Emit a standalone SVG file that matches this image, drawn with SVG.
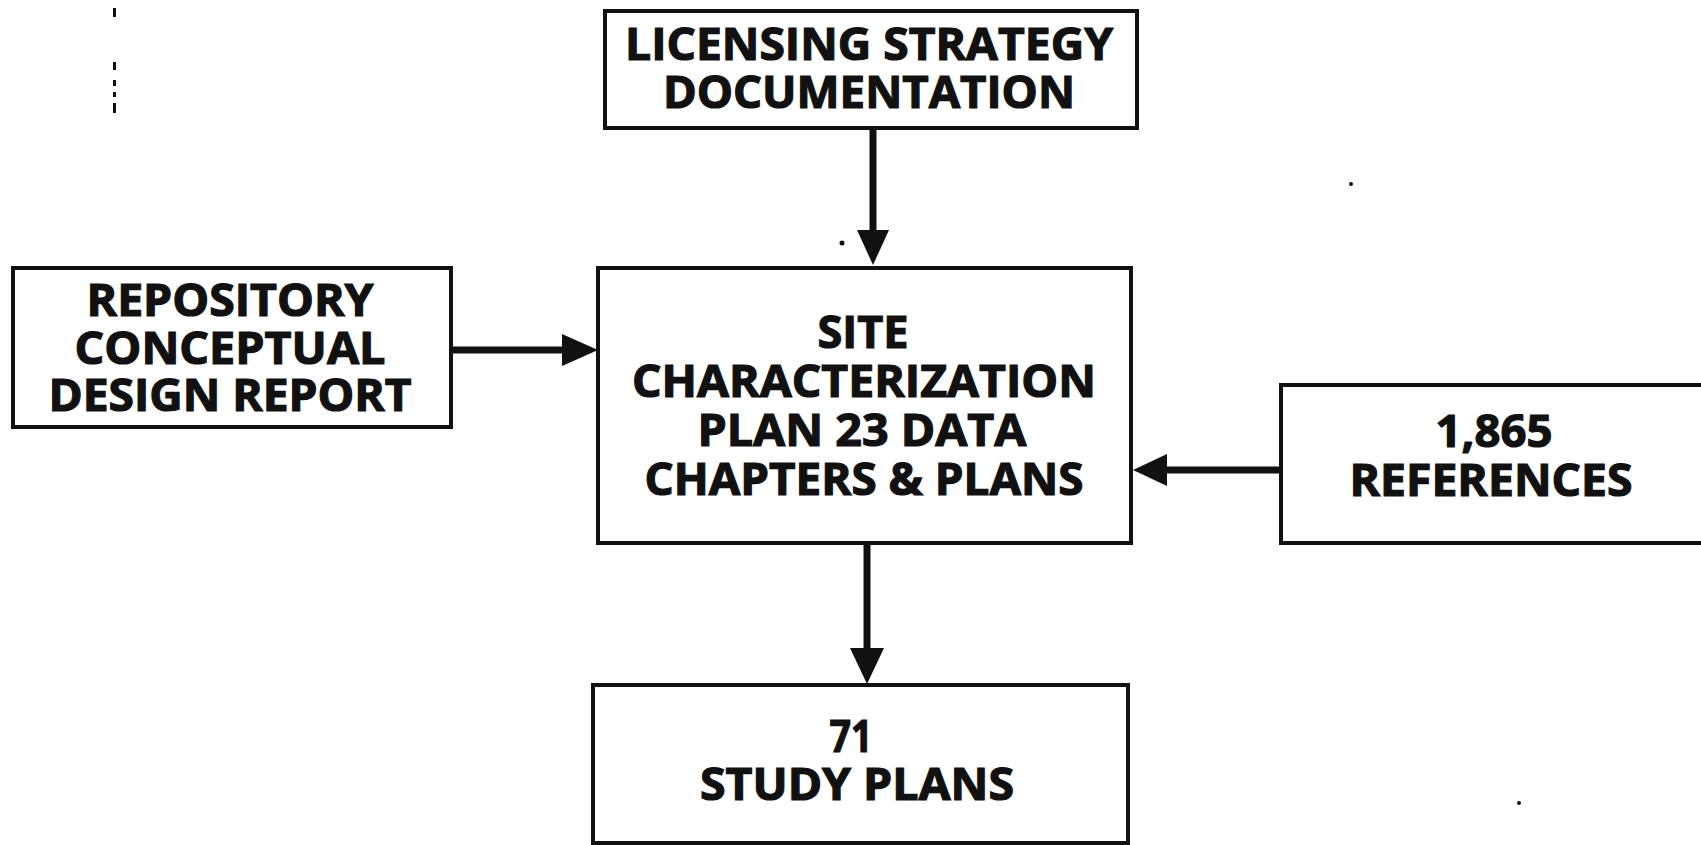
<svg xmlns="http://www.w3.org/2000/svg" width="1701" height="845" viewBox="0 0 1701 845">
  <style>
    .box { fill: #ffffff; stroke: #111111; stroke-width: 4; }
    .lbl { font-family: "Open Sans", "Noto Sans", "DejaVu Sans", sans-serif; font-weight: 700; font-size: 45px; fill: #111111; stroke: #111111; stroke-width: 1.2; text-anchor: middle; }
    .shaft { stroke: #111111; stroke-width: 7; fill: none; }
    .head { fill: #111111; }
    .speck { fill: #111111; }
  </style>
  <rect x="0" y="0" width="1701" height="845" fill="#ffffff"/>

  <!-- margin tick marks and specks -->
  <g id="margin-marks" class="speck">
    <rect x="113" y="8" width="3" height="9"/>
    <rect x="113" y="62" width="3" height="8"/>
    <rect x="113" y="80" width="3" height="6"/>
    <rect x="113" y="92" width="3" height="5"/>
    <rect x="113" y="103" width="3" height="10"/>
    <circle cx="842" cy="243" r="2.5"/>
    <circle cx="1351" cy="184" r="2"/>
    <circle cx="1519" cy="803" r="2"/>
  </g>

  <!-- connectors -->
  <g id="connectors">
    <line class="shaft" x1="873" y1="128" x2="873" y2="234"/>
    <polygon class="head" points="857,230 889,230 873,265"/>

    <line class="shaft" x1="451" y1="350" x2="566" y2="350"/>
    <polygon class="head" points="562,334 562,366 598,350"/>

    <line class="shaft" x1="1281" y1="470" x2="1163" y2="470"/>
    <polygon class="head" points="1167,454 1167,486 1133,470"/>

    <line class="shaft" x1="867" y1="543" x2="867" y2="652"/>
    <polygon class="head" points="850,648 884,648 867,684"/>
  </g>

  <g id="node-licensing">
    <rect class="box" x="605" y="11" width="532" height="117"/>
    <text class="lbl" x="869" y="60" textLength="488" lengthAdjust="spacingAndGlyphs">LICENSING STRATEGY</text>
    <text class="lbl" x="869" y="108" textLength="412" lengthAdjust="spacingAndGlyphs">DOCUMENTATION</text>
  </g>

  <g id="node-repository">
    <rect class="box" x="13" y="268" width="438" height="159"/>
    <text class="lbl" x="230" y="316" textLength="287" lengthAdjust="spacingAndGlyphs">REPOSITORY</text>
    <text class="lbl" x="230" y="364" textLength="311" lengthAdjust="spacingAndGlyphs">CONCEPTUAL</text>
    <text class="lbl" x="230" y="411" textLength="363" lengthAdjust="spacingAndGlyphs">DESIGN REPORT</text>
  </g>

  <g id="node-scp">
    <rect class="box" x="598" y="268" width="533" height="275"/>
    <text class="lbl" x="863" y="348" textLength="91" lengthAdjust="spacingAndGlyphs">SITE</text>
    <text class="lbl" x="864" y="397" textLength="464" lengthAdjust="spacingAndGlyphs">CHARACTERIZATION</text>
    <text class="lbl" x="862" y="446" textLength="329" lengthAdjust="spacingAndGlyphs">PLAN 23 DATA</text>
    <text class="lbl" x="864" y="495" textLength="439" lengthAdjust="spacingAndGlyphs">CHAPTERS &amp; PLANS</text>
  </g>

  <g id="node-references">
    <rect class="box" x="1281" y="385" width="480" height="158"/>
    <text class="lbl" x="1494" y="447" textLength="117" lengthAdjust="spacingAndGlyphs">1,865</text>
    <text class="lbl" x="1491" y="496" textLength="283" lengthAdjust="spacingAndGlyphs">REFERENCES</text>
  </g>

  <g id="node-study-plans">
    <rect class="box" x="593" y="685" width="535" height="158"/>
    <text class="lbl" x="851" y="752" textLength="43" lengthAdjust="spacingAndGlyphs">71</text>
    <text class="lbl" x="857" y="800" textLength="314" lengthAdjust="spacingAndGlyphs">STUDY PLANS</text>
  </g>
</svg>
